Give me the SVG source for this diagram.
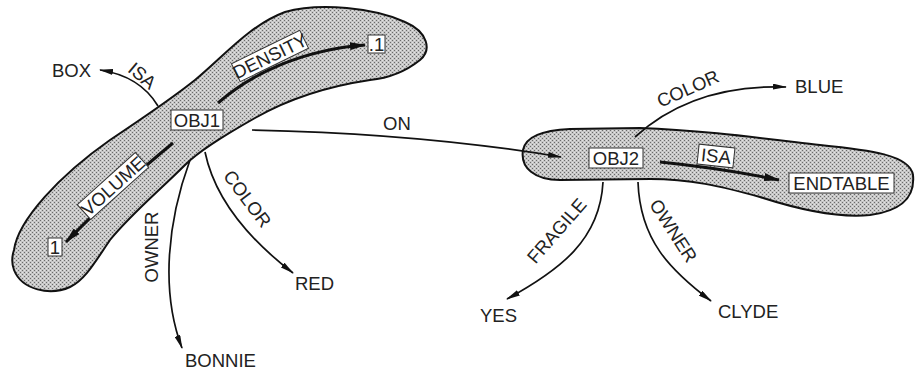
<svg xmlns="http://www.w3.org/2000/svg" width="915" height="371" viewBox="0 0 915 371">
<defs>
<pattern id="stip" width="4" height="4" patternUnits="userSpaceOnUse">
<rect width="4" height="4" fill="#c6c6c6"/>
<rect x="0" y="0" width="1" height="1" fill="#6a6a6a"/>
<rect x="2" y="2" width="1" height="1" fill="#6a6a6a"/>
<rect x="2" y="0" width="1" height="1" fill="#e4e4e4"/>
<rect x="0" y="2" width="1" height="1" fill="#e4e4e4"/>
</pattern>
<marker id="ah" viewBox="0 0 14 6" refX="13" refY="3" markerWidth="14" markerHeight="6" markerUnits="userSpaceOnUse" orient="auto">
<path d="M0,0 L14,3 L0,6 Z" fill="#111"/>
</marker>
<marker id="ahb" viewBox="0 0 16 8" refX="15" refY="4" markerWidth="16" markerHeight="8" markerUnits="userSpaceOnUse" orient="auto">
<path d="M0,0 L16,4 L0,8 Z" fill="#111"/>
</marker>
</defs>
<style>
.blob{fill:url(#stip);stroke:#111;stroke-width:2}
.c{fill:none;stroke:#111;stroke-width:1.7;marker-end:url(#ah)}
.cb{fill:none;stroke:#111;stroke-width:3;marker-end:url(#ahb)}
text{font-family:"Liberation Sans",Arial,sans-serif;font-size:18.5px;fill:#222}
.box{fill:#fff;stroke:#333;stroke-width:1}
</style>

<g id="blob-obj1"><path class="blob" d="M 14,250 C 18,220 60,175 110,140 C 140,120 170,100 195,80 C 225,55 250,25 285,12 C 320,2 375,8 405,22 C 428,32 432,50 420,60 C 405,72 390,78 370,80 C 330,86 290,98 255,118 C 225,135 200,150 185,165 C 160,190 130,215 110,240 C 95,262 85,280 70,287 C 50,296 22,290 14,270 C 11,262 12,256 14,250 Z"/></g>
<g id="blob-obj2"><path class="blob" d="M 523,150 C 526,135 545,130 570,129 L 640,128 C 700,130 760,138 820,145 C 870,150 910,155 913,175 C 915,195 905,210 870,215 C 840,218 800,210 760,197 C 720,186 690,179 650,179 L 560,180 C 535,180 520,168 523,150 Z"/></g>

<g id="connectors">
<path class="c" d="M 158,106 Q 140,76 100,70"/>
<path class="cb" d="M 218,103 C 250,75 300,50 365,45"/>
<path class="cb" d="M 173,143 Q 125,182 66,242"/>
<path class="c" d="M 190,160 C 168,220 160,290 182,348"/>
<path class="c" d="M 205,152 C 215,200 250,240 293,273"/>
<path class="c" d="M 252,130 C 350,132 460,140 561,157"/>
<path class="c" d="M 635,137 C 670,105 720,85 786,87"/>
<path class="cb" d="M 660,162 Q 720,168 779,180"/>
<path class="c" d="M 603,182 C 600,240 560,270 507,299"/>
<path class="c" d="M 638,182 C 640,240 670,270 711,301"/>
</g>

<g id="edge-labels">
<text transform="translate(142,76) rotate(40)" text-anchor="middle" y="6">ISA</text>
<text transform="translate(152,247) rotate(-90)" text-anchor="middle" y="6">OWNER</text>
<text transform="translate(247,199) rotate(53)" text-anchor="middle" y="6">COLOR</text>
<text x="383" y="130">ON</text>
<text transform="translate(688,89) rotate(-24)" text-anchor="middle" y="6">COLOR</text>
<text transform="translate(557,231) rotate(-49)" text-anchor="middle" y="6">FRAGILE</text>
<text transform="translate(673,231) rotate(57)" text-anchor="middle" y="6">OWNER</text>
</g>

<g id="density-label" transform="translate(270,56) rotate(-26)">
<rect class="box" x="-38" y="-10" width="76" height="20"/>
<text text-anchor="middle" y="6.5">DENSITY</text>
</g>
<g id="volume-label" transform="translate(113,186) rotate(-42)">
<rect class="box" x="-39" y="-10" width="78" height="20"/>
<text text-anchor="middle" y="6.5">VOLUME</text>
</g>
<g id="isa2-label" transform="translate(716,156) rotate(6)">
<rect class="box" x="-18" y="-10" width="36" height="20"/>
<text text-anchor="middle" y="6.5">ISA</text>
</g>

<g id="node-obj1"><rect class="box" x="171" y="110" width="52" height="20"/><text x="197" y="126.5" text-anchor="middle">OBJ1</text></g>
<g id="node-obj2"><rect class="box" x="589" y="148" width="54" height="20"/><text x="616" y="164.5" text-anchor="middle">OBJ2</text></g>
<g id="node-dot1"><rect class="box" x="368" y="35" width="17" height="18"/><text x="376.5" y="50.5" text-anchor="middle">.1</text></g>
<g id="node-1"><rect class="box" x="48" y="238" width="14" height="18"/><text x="55" y="253.5" text-anchor="middle">1</text></g>
<g id="node-endtable"><rect class="box" x="789" y="173" width="105" height="20"/><text x="841.5" y="189.5" text-anchor="middle">ENDTABLE</text></g>
<g id="node-box"><text x="52" y="77">BOX</text></g>
<g id="node-bonnie"><text x="185" y="367">BONNIE</text></g>
<g id="node-red"><text x="295" y="290">RED</text></g>
<g id="node-yes"><text x="480" y="322">YES</text></g>
<g id="node-clyde"><text x="718" y="318">CLYDE</text></g>
<g id="node-blue"><text x="795" y="93">BLUE</text></g>
</svg>
